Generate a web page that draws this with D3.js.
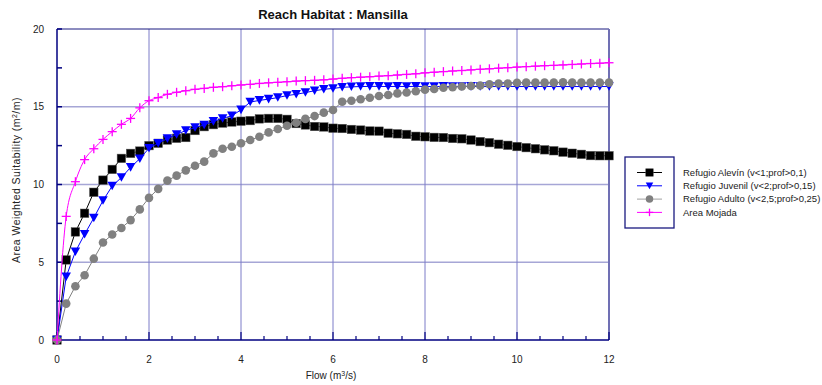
<!DOCTYPE html>
<html>
<head>
<meta charset="utf-8">
<script src="https://cdn.jsdelivr.net/npm/d3@7"></script>
<style>
  body { margin: 0; background: #fff; }
  svg { display: block; font-family: Arial, "Liberation Sans", sans-serif; }
</style>
</head>
<body>
<div id="chart"></div>
<script>
// flow values (m3/s)
var flow = [0, 0.2, 0.4, 0.6, 0.8, 1, 1.2, 1.4, 1.6, 1.8, 2, 2.2, 2.4, 2.6, 2.8, 3, 3.2, 3.4, 3.6, 3.8,
  4, 4.2, 4.4, 4.6, 4.8, 5, 5.2, 5.4, 5.6, 5.8, 6, 6.2, 6.4, 6.6, 6.8, 7, 7.2, 7.4, 7.6, 7.8,
  8, 8.2, 8.4, 8.6, 8.8, 9, 9.2, 9.4, 9.6, 9.8, 10, 10.2, 10.4, 10.6, 10.8, 11, 11.2, 11.4, 11.6, 11.8, 12];

var alevin = [0, 5.15, 6.95, 8.15, 9.5, 10.28, 10.97, 11.68, 12.0, 12.15, 12.5, 12.65, 12.86, 12.97, 13.02, 13.47, 13.72, 13.85, 13.95, 14.02,
  14.07, 14.11, 14.22, 14.25, 14.25, 14.19, 13.92, 13.83, 13.73, 13.7, 13.62, 13.6, 13.54, 13.5, 13.44, 13.43, 13.3, 13.26, 13.22, 13.1,
  13.07, 13.03, 13.02, 12.96, 12.94, 12.86, 12.76, 12.69, 12.59, 12.52, 12.44, 12.37, 12.3, 12.23, 12.17, 12.08, 12.01, 11.94, 11.86, 11.85, 11.85];

var juvenil = [0, 4.07, 5.68, 6.8, 7.85, 8.97, 9.9, 10.45, 11.1, 11.66, 12.33, 12.65, 12.95, 13.22, 13.47, 13.66, 13.83, 14.06, 14.25, 14.42,
  14.8, 15.3, 15.41, 15.49, 15.59, 15.72, 15.8, 15.91, 16.03, 16.12, 16.18, 16.25, 16.28, 16.3, 16.31, 16.31, 16.3, 16.31, 16.3, 16.31,
  16.3, 16.3, 16.31, 16.3, 16.3, 16.31, 16.3, 16.3, 16.3, 16.31, 16.3, 16.3, 16.3, 16.31, 16.3, 16.3, 16.3, 16.3, 16.3, 16.3, 16.3];

var adulto = [0, 2.34, 3.46, 4.16, 5.23, 6.27, 6.78, 7.2, 7.71, 8.4, 9.14, 9.72, 10.25, 10.57, 10.91, 11.21, 11.47, 12.0, 12.3, 12.43,
  12.65, 12.86, 13.07, 13.35, 13.57, 13.78, 13.97, 14.22, 14.4, 14.62, 14.79, 15.32, 15.39, 15.48, 15.58, 15.69, 15.76, 15.86, 15.92, 16.0,
  16.1, 16.14, 16.22, 16.25, 16.3, 16.33, 16.37, 16.45, 16.5, 16.5, 16.54, 16.55, 16.55, 16.55, 16.55, 16.57, 16.55, 16.55, 16.55, 16.55, 16.55];

var mojada = [0, 7.95, 10.18, 11.6, 12.3, 12.9, 13.4, 13.87, 14.25, 14.93, 15.39, 15.59, 15.8, 15.93, 16.03, 16.12, 16.18, 16.25, 16.29, 16.35,
  16.4, 16.44, 16.5, 16.54, 16.57, 16.61, 16.65, 16.68, 16.7, 16.73, 16.78, 16.83, 16.87, 16.9, 16.93, 16.97, 17.0, 17.04, 17.08, 17.12,
  17.18, 17.22, 17.26, 17.3, 17.33, 17.37, 17.41, 17.44, 17.48, 17.51, 17.55, 17.58, 17.61, 17.64, 17.66, 17.69, 17.72, 17.75, 17.78, 17.8, 17.83];

var seriesNames = ["Refugio Alevín (v<1;prof>0,1)", "Refugio Juvenil (v<2;prof>0,15)",
                   "Refugio Adulto (v<2,5;prof>0,25)", "Area Mojada"];
var xTicks = [0, 2, 4, 6, 8, 10, 12];
var yTicks = [0, 5, 10, 15, 20];

var series = [
  {name: seriesNames[0], values: alevin, color: "#000000", marker: "square"},
  {name: seriesNames[1], values: juvenil, color: "#0000ff", marker: "triangle"},
  {name: seriesNames[2], values: adulto, color: "#808080", marker: "circle"},
  {name: seriesNames[3], values: mojada, color: "#ff00ff", marker: "cross"}
];

var W = 822, H = 385;
var margin = {top: 29, left: 57},
    width = 552, height = 311;

var svg = d3.select("#chart").append("svg")
    .attr("width", W).attr("height", H);

var x = d3.scaleLinear().domain([0, 12]).range([margin.left, margin.left + width]);
var y = d3.scaleLinear().domain([0, 20]).range([margin.top + height, margin.top]);

// title
svg.append("text")
    .attr("x", x(6)).attr("y", 19)
    .attr("text-anchor", "middle")
    .style("font-size", "13px").style("font-weight", "bold").style("fill", "#111")
    .text("Reach Habitat : Mansilla");

// grid
svg.append("g").selectAll("line")
    .data([5, 10, 15]).enter().append("line")
    .attr("x1", x(0)).attr("x2", x(12))
    .attr("y1", function(d) { return y(d); }).attr("y2", function(d) { return y(d); })
    .attr("stroke", "#a6a6d6").attr("stroke-width", 1.6);

svg.append("g").selectAll("line")
    .data([2, 4, 6, 8, 10]).enter().append("line")
    .attr("y1", y(0)).attr("y2", y(20))
    .attr("x1", function(d) { return x(d); }).attr("x2", function(d) { return x(d); })
    .attr("stroke", "#7c7cc8").attr("stroke-width", 1);

// frame
svg.append("line").attr("x1", x(0)).attr("x2", x(12)).attr("y1", y(20)).attr("y2", y(20))
    .attr("stroke", "#1a1a80").attr("stroke-width", 1);
svg.append("line").attr("x1", x(12)).attr("x2", x(12)).attr("y1", y(20)).attr("y2", y(0))
    .attr("stroke", "#7070b4").attr("stroke-width", 2);

// y axis ticks (inward)
svg.append("g").selectAll("line")
    .data(d3.range(0, 20.1, 2.5)).enter().append("line")
    .attr("x1", x(0)).attr("x2", x(0) + 5)
    .attr("y1", function(d) { return y(d); }).attr("y2", function(d) { return y(d); })
    .attr("stroke", "#000080").attr("stroke-width", 1.5);

// x axis ticks (inward)
svg.append("g").selectAll("line")
    .data(d3.range(0, 12.01, 0.5)).enter().append("line")
    .attr("x1", function(d) { return x(d); }).attr("x2", function(d) { return x(d); })
    .attr("y1", y(0)).attr("y2", function(d) { return y(0) - (d % 2 === 0 ? 8 : 4); })
    .attr("stroke", "#000080").attr("stroke-width", 1.2);

svg.append("line").attr("x1", x(0)).attr("x2", x(0)).attr("y1", y(20)).attr("y2", y(0))
    .attr("stroke", "#000080").attr("stroke-width", 1.5);
svg.append("line").attr("x1", x(0)).attr("x2", x(12)).attr("y1", y(0)).attr("y2", y(0))
    .attr("stroke", "#000080").attr("stroke-width", 1.5);

// tick labels
svg.append("g").selectAll("text")
    .data(yTicks).enter().append("text")
    .attr("x", 44).attr("y", function(d) { return y(d); })
    .attr("dy", "0.35em").attr("text-anchor", "end")
    .style("font-size", "10px").style("fill", "#222")
    .text(function(d) { return d; });

svg.append("g").selectAll("text")
    .data(xTicks).enter().append("text")
    .attr("x", function(d) { return x(d); }).attr("y", 363)
    .attr("text-anchor", "middle")
    .style("font-size", "10px").style("fill", "#222")
    .text(function(d) { return d; });

// axis titles
var xt = svg.append("text").attr("x", x(6) - 2).attr("y", 379)
    .attr("text-anchor", "middle").style("font-size", "10px").style("fill", "#222");
xt.append("tspan").text("Flow (m");
xt.append("tspan").attr("dy", -3).style("font-size", "7px").text("3");
xt.append("tspan").attr("dy", 3).text("/s)");

var yt = svg.append("text").attr("transform", "translate(19.5,180) rotate(-90)")
    .attr("text-anchor", "middle").style("font-size", "10.5px").style("letter-spacing", "0.45px")
    .style("fill", "#222");
yt.append("tspan").text("Area Weighted Suitability (m");
yt.append("tspan").attr("dy", -3).style("font-size", "7px").text("2");
yt.append("tspan").attr("dy", 3).text("/m)");

// markers
function drawMarker(g, type, color, cx, cy, s) {
  if (type === "square") {
    g.append("rect").attr("x", cx - s / 2).attr("y", cy - s / 2)
      .attr("width", s).attr("height", s).attr("fill", color)
      .attr("stroke", "#555").attr("stroke-width", 0.5);
  } else if (type === "triangle") {
    var h = s * 0.9;
    g.append("path")
      .attr("d", "M" + (cx - s / 2) + "," + (cy - h / 2) + "L" + (cx + s / 2) + "," + (cy - h / 2) +
                 "L" + cx + "," + (cy + h / 2) + "Z")
      .attr("fill", color);
  } else if (type === "circle") {
    g.append("circle").attr("cx", cx).attr("cy", cy).attr("r", s / 2).attr("fill", color);
  } else {
    g.append("line").attr("x1", cx - s / 2).attr("x2", cx + s / 2).attr("y1", cy).attr("y2", cy)
      .attr("stroke", color).attr("stroke-width", 1.3);
    g.append("line").attr("x1", cx).attr("x2", cx).attr("y1", cy - s / 2).attr("y2", cy + s / 2)
      .attr("stroke", color).attr("stroke-width", 1.3);
  }
}

var markerSize = {square: 8.5, triangle: 9.5, circle: 8.6, cross: 9};

series.forEach(function(s) {
  var pts = flow.map(function(f, i) { return [f, s.values[i]]; });
  var line = d3.line()
      .x(function(d) { return x(d[0]); })
      .y(function(d) { return y(d[1]); })
      .curve(s.marker === "cross" ? d3.curveMonotoneX : d3.curveLinear);
  var g = svg.append("g");
  g.append("path").datum(pts).attr("d", line)
      .attr("fill", "none").attr("stroke", s.color).attr("stroke-width", 1);
  pts.forEach(function(p) {
    drawMarker(g, s.marker, s.color, x(p[0]), y(p[1]), markerSize[s.marker]);
  });
});

// legend
var lg = svg.append("g");
lg.append("rect").attr("x", 625).attr("y", 157).attr("width", 49).attr("height", 71)
    .attr("fill", "#fff").attr("stroke", "#1a1a80").attr("stroke-width", 1.3);
series.forEach(function(s, i) {
  var cy = 172.5 + i * 13.3;
  lg.append("line").attr("x1", 637).attr("x2", 662).attr("y1", cy).attr("y2", cy)
      .attr("stroke", s.marker === "circle" ? "#a0a0a0" : s.color).attr("stroke-width", 1);
  drawMarker(lg, s.marker, s.color, 649.5, cy, 7.5);
  lg.append("text").attr("x", 683).attr("y", cy).attr("dy", "0.35em")
      .style("font-size", "9.5px").style("fill", "#222").text(s.name);
});
</script>
</body>
</html>
